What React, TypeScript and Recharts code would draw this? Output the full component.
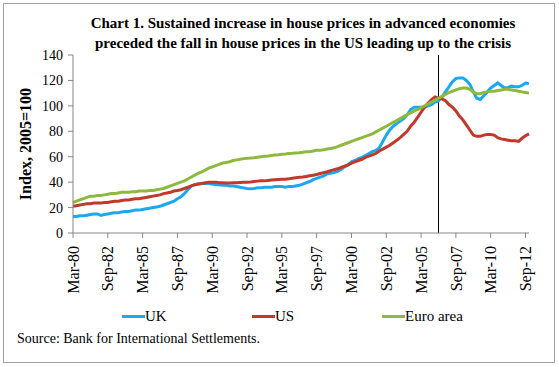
import React from 'react';
import { LineChart, Line, XAxis, YAxis, ReferenceLine } from 'recharts';

// quarterly index values, Mar-80 .. Dec-12 (2005=100)
const years = Array.from({ length: 33 }, (_, k) => 1980 + k);
const months = ['Mar', 'Jun', 'Sep', 'Dec'];

const ukValues = [
  13, 13, 13.5, 13.5,
  14, 14.5, 15, 15,
  13.8, 14.5, 15, 15.5,
  16, 16, 16.5, 17,
  17, 17.5, 18, 18,
  18.5, 19, 19.5, 20,
  20.5, 21, 22, 23,
  24, 25, 27, 28.5,
  31, 34, 37, 38,
  38.5, 39, 39, 39,
  38.5, 38, 38, 37.5,
  37.5, 37, 37, 36.5,
  36, 35.5, 35, 34.8,
  35, 35.5, 35.5, 36,
  36, 36, 36.5, 36.5,
  36.5, 36, 36.5, 36.5,
  37, 37.5, 38.5, 39.5,
  40.5, 42, 43, 44,
  45, 46.5, 47, 47.5,
  48.5, 50, 52, 53.5,
  56, 57, 58.5, 59.5,
  61, 62.5, 64, 65,
  67, 72, 77, 81,
  84, 86, 88, 90,
  93, 97, 99, 99,
  99, 99, 100, 101,
  103, 104, 107, 111,
  115, 119, 121.5, 122,
  122, 120, 117, 111,
  106, 105, 108, 111,
  114, 116, 118, 116,
  114, 114.5, 115.5, 115,
  115, 116, 118, 117.5,
];

const usValues = [
  21, 21.5, 22, 22.5,
  23, 23, 23.5, 23.5,
  23.5, 24, 24, 24.5,
  25, 25, 25.5, 26,
  26, 26.5, 27, 27,
  27.5, 28, 28.5, 29,
  29.5, 30, 31, 31.5,
  32, 33, 33.5, 34,
  35, 36, 37, 38,
  38.5, 39, 39.5, 40,
  40, 40, 39.5, 39.5,
  39.3, 39.3, 39.5, 39.5,
  39.8, 40, 40, 40.2,
  40.5, 40.8, 41, 41,
  41.3, 41.6, 41.8, 42,
  42.2, 42.3, 42.6, 43,
  43.4, 43.8, 44, 44.5,
  45, 45.5, 46, 46.8,
  47.5, 48.2, 49, 49.8,
  50.5, 51.5, 52.5, 53.5,
  55, 56, 57, 58,
  59.5, 60.5, 61.5, 62.5,
  64.5, 66, 67.5, 69,
  71, 73, 75, 77.5,
  80, 84, 87, 91,
  95, 99, 102, 105,
  107, 106, 105.5, 104,
  101, 99, 96, 92,
  89, 85, 81, 77,
  76, 76, 77, 77.5,
  77.5, 77, 75, 74,
  73.5, 73, 72.5, 72.5,
  72, 74.5, 76.5, 78,
];

const euroValues = [
  24, 25, 26, 27,
  28, 29, 29, 29.5,
  29.5, 30, 30.5, 31,
  31, 31.5, 32, 32,
  32, 32.5, 32.5, 33,
  33, 33, 33.5, 33.5,
  34, 34.5, 35, 36,
  37, 38, 39, 40,
  41, 42.5, 44, 45.5,
  47, 48, 49.5, 51,
  52, 53, 54, 55,
  55.5, 56, 57, 57.5,
  58, 58.5, 58.7, 59,
  59.2, 59.6, 60, 60.3,
  60.6, 61, 61.3, 61.6,
  62, 62.2, 62.5, 62.7,
  63, 63.2, 63.5, 64,
  64, 64.5, 65, 65,
  65.5, 66, 66.5, 67,
  68, 69, 70, 71,
  72, 73, 74, 75,
  76, 77, 78, 79.5,
  81, 82.5, 84, 85.5,
  87, 88.5, 90, 91.5,
  93, 94.5, 96, 97,
  98.5, 100, 101.5, 103,
  104.5, 106, 107.5, 109,
  110.5, 111.5, 112.5, 113.5,
  114, 114, 113, 111,
  109.5, 109.5, 110.5, 111,
  111.5, 111.5, 112, 112.5,
  113, 113, 112.5, 112,
  111.5, 111, 110.5, 110,
];

const quarters = years.flatMap(y => months.map(m => `${m}-${String(y).slice(2)}`));
const yTicks = [0, 20, 40, 60, 80, 100, 120, 140];
const crisisMark = 'Jun-06';

const chartData = quarters.map((q, i) => ({
  q,
  uk: ukValues[i],
  us: usValues[i],
  euro: euroValues[i],
}));

const serif = '"Liberation Serif", "Times New Roman", serif';

const XTick = (props: any) => {
  const { x, y, payload } = props;
  return (
    <g transform={`translate(${x},${y})`}>
      <text
        transform="rotate(-90)"
        x={-6}
        dy="0.35em"
        textAnchor="end"
        fontFamily={serif}
        fontSize={16}
        fill="#000"
      >
        {payload.value}
      </text>
    </g>
  );
};

const legendItems = [
  { name: 'UK', color: '#1aa9ee', left: 122 },
  { name: 'US', color: '#c0392b', left: 252 },
  { name: 'Euro area', color: '#8fb83f', left: 382 },
];

export default function App() {
  return (
    <div style={{ position: 'absolute', left: 0, top: 0, width: 559, height: 367, background: '#fff', fontFamily: serif }}>
      <div style={{ position: 'absolute', left: 3, top: 3, width: 550, height: 358, border: '1px solid #a0a0a0' }} />
      <div style={{ position: 'absolute', left: 0, top: 13, width: 606, textAlign: 'center', fontWeight: 'bold', fontSize: 15, lineHeight: '20px', color: '#000' }}>
        Chart 1. Sustained increase in house prices in advanced economies
        <br />
        preceded the fall in house prices in the US leading up to the crisis
      </div>
      <LineChart
        width={559}
        height={367}
        data={chartData}
        margin={{ top: 55, right: 30, left: 0, bottom: 0 }}
        style={{ position: 'absolute', left: 0, top: 0 }}
      >
        <XAxis
          dataKey="q"
          interval={9}
          height={134}
          tickSize={5}
          tick={<XTick />}
          stroke="#868686"
        />
        <YAxis
          domain={[0, 140]}
          ticks={yTicks}
          width={73}
          tickSize={5}
          tickMargin={5}
          stroke="#868686"
          tick={{ fill: '#000', fontSize: 14, fontFamily: serif }}
          label={{
            value: 'Index, 2005=100',
            angle: -90,
            position: 'insideLeft',
            dx: 20,
            style: { fill: '#000', fontSize: 16, fontWeight: 'bold', fontFamily: serif, textAnchor: 'middle' },
          }}
        />
        <ReferenceLine x={crisisMark} stroke="#000" strokeWidth={1} />
        <Line dataKey="uk" stroke={legendItems[0].color} strokeWidth={3} dot={false} isAnimationActive={false} />
        <Line dataKey="us" stroke={legendItems[1].color} strokeWidth={3} dot={false} isAnimationActive={false} />
        <Line dataKey="euro" stroke={legendItems[2].color} strokeWidth={3} dot={false} isAnimationActive={false} />
      </LineChart>
      {legendItems.map(item => (
        <div key={item.name} style={{ position: 'absolute', left: item.left, top: 308, display: 'flex', alignItems: 'center', fontSize: 15, color: '#000' }}>
          <span style={{ display: 'inline-block', width: 23, height: 3, background: item.color }} />
          <span>{item.name}</span>
        </div>
      ))}
      <div style={{ position: 'absolute', left: 17, top: 331, fontSize: 14, color: '#000' }}>
        Source: Bank for International Settlements.
      </div>
    </div>
  );
}
